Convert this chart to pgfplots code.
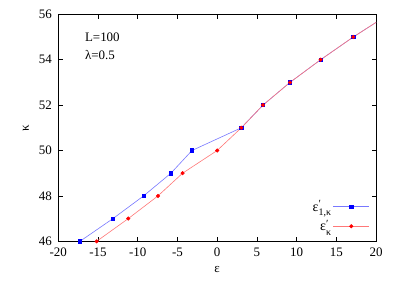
\documentclass[border=0pt]{standalone}
\usepackage{pgfplots}
\pgfplotsset{compat=1.18}
\usepackage{fontspec}
\setmainfont{Liberation Serif}
\definecolor{lblue}{RGB}{120,120,255}
\definecolor{lred}{RGB}{255,120,120}
\begin{document}
\fontsize{13}{15}\selectfont
\begin{tikzpicture}
\begin{axis}[
  scale only axis, width=317.7bp, height=227bp,
  xmin=-20, xmax=20, ymin=46, ymax=56,
  xtick={-20,-15,-10,-5,0,5,10,15,20},
  xticklabels={-20,-15,-10,-5,0,5,10,15,20},
  ytick={46,48,50,52,54,56},
  yticklabels={46,48,50,52,54,56},
  tick align=inside, major tick length=4.5bp,
  tick style={black, line width=0.5bp},
  axis line style={line width=0.7bp},
  every tick label/.append style={font=\fontsize{13}{15}\selectfont},
  xticklabel style={yshift=-2bp},
  yticklabel style={xshift=-2bp},
  xlabel={ε}, ylabel={κ},
  label style={font=\fontsize{13}{15}\selectfont},
  xlabel style={yshift=-1bp},
  ylabel style={yshift=1bp},
  legend plot pos=right,
  legend cell align=right,
  legend style={draw=none, fill=none, at={(0.99,0.02)}, anchor=south east,
    row sep=3bp, font=\fontsize{14}{16}\selectfont},
  legend image code/.code={\draw[mark repeat=2,mark phase=2,#1] plot coordinates {(0bp,0bp) (18bp,0bp) (36bp,0bp)};},
]
\addplot[lblue, line width=0.6bp, mark=square*, mark size=1.7bp, mark options={fill=blue, draw=blue}]
 coordinates {(-17.27,46) (-13.12,47) (-9.26,48) (-5.82,49) (-3.17,50) (3.04,51) (5.77,52) (9.17,53) (13.03,54) (17.14,55) (21.6,56)};
\addlegendentry{ε\rlap{\raisebox{0.55ex}{\fontsize{11}{12}\selectfont ′}}\raisebox{-0.75ex}{\fontsize{10}{11}\selectfont 1,κ}}
\addplot[lred, line width=0.6bp, mark=*, mark size=1.7bp, mark options={fill=red, draw=red}]
 coordinates {(-15.17,46) (-11.19,47) (-7.45,48) (-4.35,49) (0,50) (3.04,51) (5.77,52) (9.17,53) (13.03,54) (17.14,55) (21.6,56)};
\addlegendentry{ε\rlap{\raisebox{0.55ex}{\fontsize{11}{12}\selectfont ′}}\raisebox{-0.75ex}{\fontsize{10}{11}\selectfont κ}}
\node[anchor=west] at (axis cs:-17.2,55.0) {L=100};
\node[anchor=west] at (axis cs:-17.2,54.2) {λ=0.5};
\end{axis}
\pgfresetboundingbox
\path ([xshift=-58.3bp,yshift=-43.7bp]current axis.south west) rectangle ([xshift=31bp,yshift=14.3bp]current axis.north east);
\end{tikzpicture}
\end{document}
